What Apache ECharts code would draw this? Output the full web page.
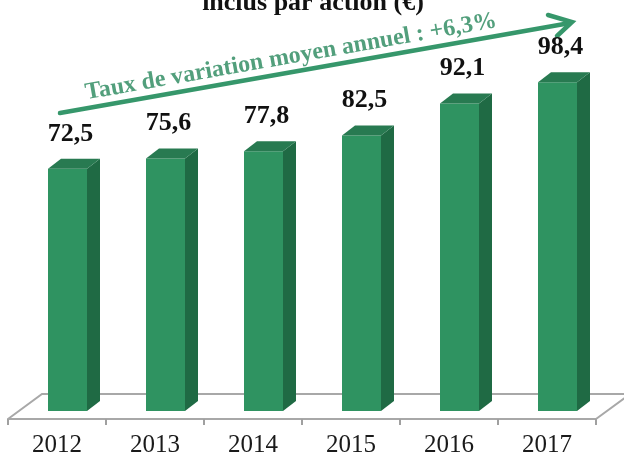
<!DOCTYPE html>
<html>
<head>
<meta charset="utf-8">
<script src="https://cdn.jsdelivr.net/npm/echarts@6/dist/echarts.min.js"></script>
<style>
  html, body { margin: 0; padding: 0; background: #fff; }
  #chart { width: 624px; height: 459px; }
</style>
</head>
<body>
<div id="chart"></div>
<script>
// data
var years = ['2012', '2013', '2014', '2015', '2016', '2017'];
var values = [72.5, 75.6, 77.8, 82.5, 92.1, 98.4];
var valueLabels = ['72,5', '75,6', '77,8', '82,5', '92,1', '98,4'];
var titleText = 'inclus par action (€)';
var trendText = 'Taux de variation moyen annuel : +6,3%';

var serif = "'Liberation Serif', 'Times New Roman', serif";
var frontColor = '#2f9361', sideColor = '#1f6a44', topColor = '#287a51';
var depthX = 13, depthY = 10, barW = 39, shift = 10.5;

function renderBar(params, api) {
    var i = api.value(0);
    var v = api.value(1);
    var p = api.coord([i, v]);
    var b = api.coord([i, 0]);
    var x0 = p[0] + shift - barW / 2, x1 = x0 + barW;
    var yt = p[1], yb = b[1];
    return {
        type: 'group',
        children: [
            { type: 'polygon', shape: { points: [[x0, yt], [x1, yt], [x1, yb], [x0, yb]] }, style: { fill: frontColor } },
            { type: 'polygon', shape: { points: [[x1, yt], [x1 + depthX, yt - depthY], [x1 + depthX, yb - depthY], [x1, yb]] }, style: { fill: sideColor } },
            { type: 'polygon', shape: { points: [[x0, yt], [x0 + depthX, yt - depthY], [x1 + depthX, yt - depthY], [x1, yt]] }, style: { fill: topColor } },
            {
                type: 'text', x: p[0] + shift + 3, y: yt - 22,
                style: { text: valueLabels[params.dataIndex], fill: '#111', font: 'bold 26px ' + serif, align: 'center', verticalAlign: 'bottom' }
            }
        ]
    };
}

// floor platform behind the bars
function renderFloor(params, api) {
    var cs = params.coordSys;
    var yf = cs.y + cs.height + 8;
    var xl = cs.x, xr = cs.x + cs.width;
    return {
        type: 'polyline',
        shape: { points: [[xl, yf], [xl + 34, yf - 25], [xr + 34, yf - 25], [xr, yf]] },
        style: { stroke: '#a8a8a8', lineWidth: 2, fill: null }
    };
}

var chart = echarts.init(document.getElementById('chart'));
chart.setOption({
    animation: false,
    grid: { left: 8, right: 28, top: 77, bottom: 48 },
    xAxis: {
        type: 'category',
        data: years,
        offset: 8,
        axisLine: { onZero: false, lineStyle: { color: '#a8a8a8', width: 2 } },
        axisTick: { show: true, alignWithLabel: false, length: 6, lineStyle: { color: '#a0a0a0', width: 2 } },
        axisLabel: { fontFamily: serif, fontSize: 25, color: '#1a1a1a', margin: 14 }
    },
    yAxis: {
        type: 'value', min: 0, max: 100,
        show: false, splitLine: { show: false }
    },
    graphic: [
        {
            type: 'text', x: 313, y: 3,
            style: { text: titleText, font: 'bold 26px ' + serif, fill: '#111', align: 'center', verticalAlign: 'middle' }
        },
        {
            type: 'line',
            shape: { x1: 60, y1: 113, x2: 570, y2: 23 },
            style: { stroke: '#36976b', lineWidth: 4.5, lineCap: 'round' }
        },
        {
            type: 'polyline',
            shape: { points: [[548, 15], [572, 22], [557, 36]] },
            style: { stroke: '#36976b', lineWidth: 4.5, fill: null, lineCap: 'round', lineJoin: 'miter' }
        },
        {
            type: 'text', x: 291, y: 57, rotation: 10 * Math.PI / 180,
            style: { text: trendText, font: 'bold 24px ' + serif, fill: '#529f7c', align: 'center', verticalAlign: 'middle' }
        }
    ],
    series: [
        {
            type: 'custom',
            renderItem: renderFloor,
            data: [[0, 0]],
            silent: true,
            z: 1
        },
        {
            type: 'custom',
            renderItem: renderBar,
            encode: { x: 0, y: 1 },
            data: values.map(function (v, i) { return [i, v]; }),
            silent: true,
            z: 2
        }
    ]
});
</script>
</body>
</html>
